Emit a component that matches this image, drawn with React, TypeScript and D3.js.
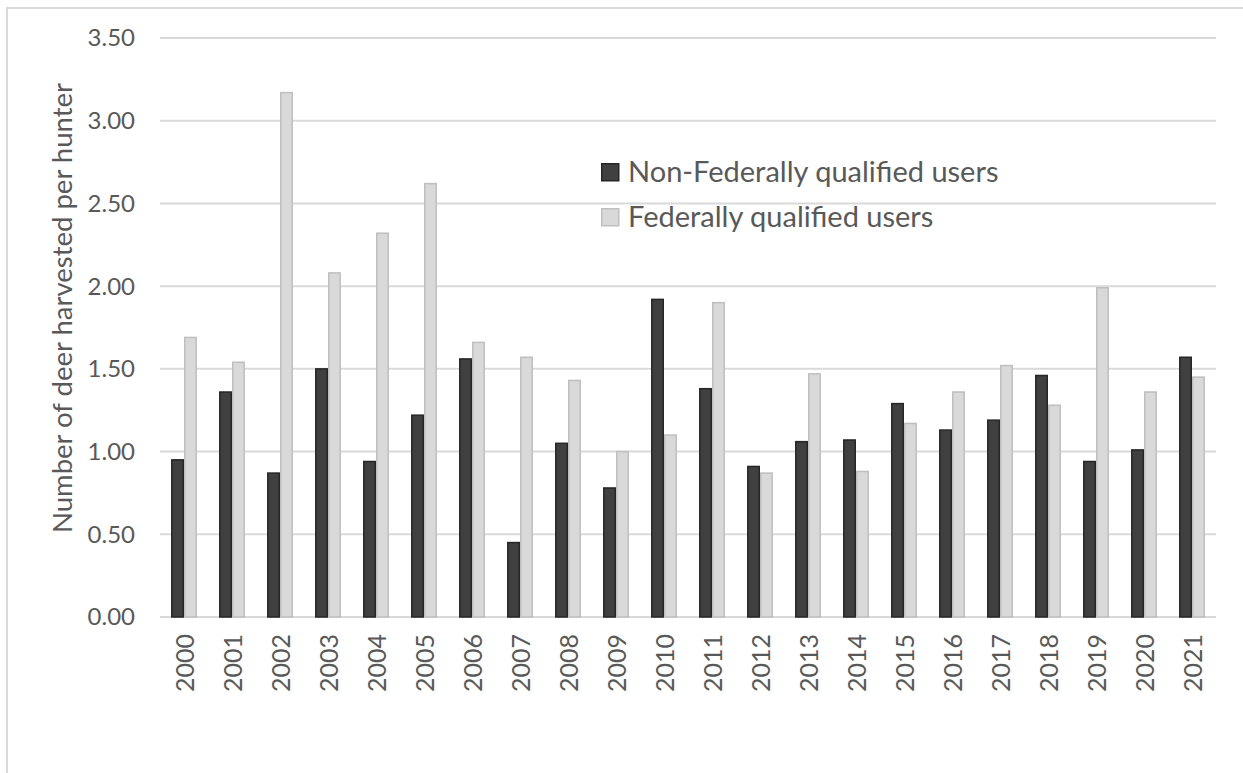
import React, { useEffect, useRef } from 'react';
import * as d3 from 'd3';

const years = [
  '2000', '2001', '2002', '2003', '2004', '2005', '2006', '2007', '2008', '2009', '2010',
  '2011', '2012', '2013', '2014', '2015', '2016', '2017', '2018', '2019', '2020', '2021',
];

const nonFederal = [
  0.95, 1.36, 0.87, 1.5, 0.94, 1.22, 1.56, 0.45, 1.05, 0.78, 1.92,
  1.38, 0.91, 1.06, 1.07, 1.29, 1.13, 1.19, 1.46, 0.94, 1.01, 1.57,
];

const federal = [
  1.69, 1.54, 3.17, 2.08, 2.32, 2.62, 1.66, 1.57, 1.43, 1.0, 1.1,
  1.9, 0.87, 1.47, 0.88, 1.17, 1.36, 1.52, 1.28, 1.99, 1.36, 1.45,
];

const seriesNames = ['Non-Federally qualified users', 'Federally qualified users'];
const yTicks = [0, 0.5, 1, 1.5, 2, 2.5, 3, 3.5];

const WIDTH = 1243;
const HEIGHT = 773;
const FONT = 'Lato, "Open Sans", sans-serif';
const TEXT = '#595959';

const App: React.FC = () => {
  const svgRef = useRef<SVGSVGElement>(null);

  useEffect(() => {
    if (!svgRef.current) return;
    const svg = d3.select(svgRef.current);
    svg.selectAll('*').remove();

    const fills = ['#404040', '#d9d9d9'];
    const strokes = ['#262626', '#bfbfbf'];

    // outer chart frame (top + left edges visible)
    svg.append('path')
      .attr('d', `M7,${HEIGHT} L7,8 L${WIDTH},8`)
      .attr('fill', 'none')
      .attr('stroke', '#d9d9d9')
      .attr('stroke-width', 2);

    const x = d3.scaleBand<string>()
      .domain(years)
      .range([160, 1216])
      .paddingInner(0.46)
      .paddingOuter(0.23);

    const xInner = d3.scaleBand<string>()
      .domain(seriesNames)
      .range([0, x.bandwidth()]);

    const y = d3.scaleLinear()
      .domain([0, 3.5])
      .range([617, 38]);

    // gridlines
    svg.append('g')
      .selectAll('line')
      .data(yTicks)
      .enter()
      .append('line')
      .attr('x1', 160)
      .attr('x2', 1216)
      .attr('y1', d => y(d))
      .attr('y2', d => y(d))
      .attr('stroke', '#d9d9d9')
      .attr('stroke-width', 2);

    // y tick labels
    svg.append('g')
      .selectAll('text')
      .data(yTicks)
      .enter()
      .append('text')
      .attr('x', 135)
      .attr('y', d => y(d))
      .attr('dy', '0.35em')
      .attr('text-anchor', 'end')
      .attr('font-family', FONT)
      .attr('font-size', 24)
      .attr('fill', TEXT)
      .text(d => d.toFixed(2));

    // bars
    const rows = years.map((yr, i) => ({ year: yr, values: [nonFederal[i], federal[i]] }));
    const groups = svg.append('g')
      .selectAll('g')
      .data(rows)
      .enter()
      .append('g')
      .attr('transform', d => `translate(${x(d.year)},0)`);

    groups.selectAll('rect')
      .data(d => d.values.map((v, k) => ({ v, k })))
      .enter()
      .append('rect')
      .attr('x', d => (xInner(seriesNames[d.k]) || 0) + 0.75)
      .attr('y', d => y(d.v))
      .attr('width', xInner.bandwidth() - 1.5)
      .attr('height', d => y(0) - y(d.v))
      .attr('fill', d => fills[d.k])
      .attr('stroke', d => strokes[d.k])
      .attr('stroke-width', 1.5);

    // x tick labels (rotated)
    svg.append('g')
      .selectAll('text')
      .data(years)
      .enter()
      .append('text')
      .attr('transform', d => `translate(${(x(d) || 0) + x.bandwidth() / 2 + 1},634) rotate(-90)`)
      .attr('dy', '0.35em')
      .attr('text-anchor', 'end')
      .attr('font-family', FONT)
      .attr('font-size', 25)
      .attr('fill', TEXT)
      .text(d => d);

    // y axis title
    svg.append('text')
      .attr('transform', 'translate(62,308) rotate(-90)')
      .attr('dy', '0.35em')
      .attr('text-anchor', 'middle')
      .attr('font-family', FONT)
      .attr('font-size', 27.5)
      .attr('fill', TEXT)
      .text('Number of deer harvested per hunter');

    // legend
    const legend = svg.append('g')
      .selectAll('g')
      .data(seriesNames)
      .enter()
      .append('g')
      .attr('transform', (_, i) => `translate(601,${163 + i * 45})`);

    legend.append('rect')
      .attr('x', 0.75)
      .attr('y', 0.75)
      .attr('width', 17)
      .attr('height', 17)
      .attr('fill', (_, i) => fills[i])
      .attr('stroke', (_, i) => strokes[i])
      .attr('stroke-width', 1.5);

    legend.append('text')
      .attr('x', 27)
      .attr('y', 9)
      .attr('dy', '0.35em')
      .attr('font-family', FONT)
      .attr('font-size', 29)
      .attr('fill', TEXT)
      .text(d => d);
  }, []);

  return (
    <svg
      ref={svgRef}
      width={WIDTH}
      height={HEIGHT}
      style={{ position: 'absolute', left: 0, top: 0, background: '#ffffff' }}
    />
  );
};

export default App;
